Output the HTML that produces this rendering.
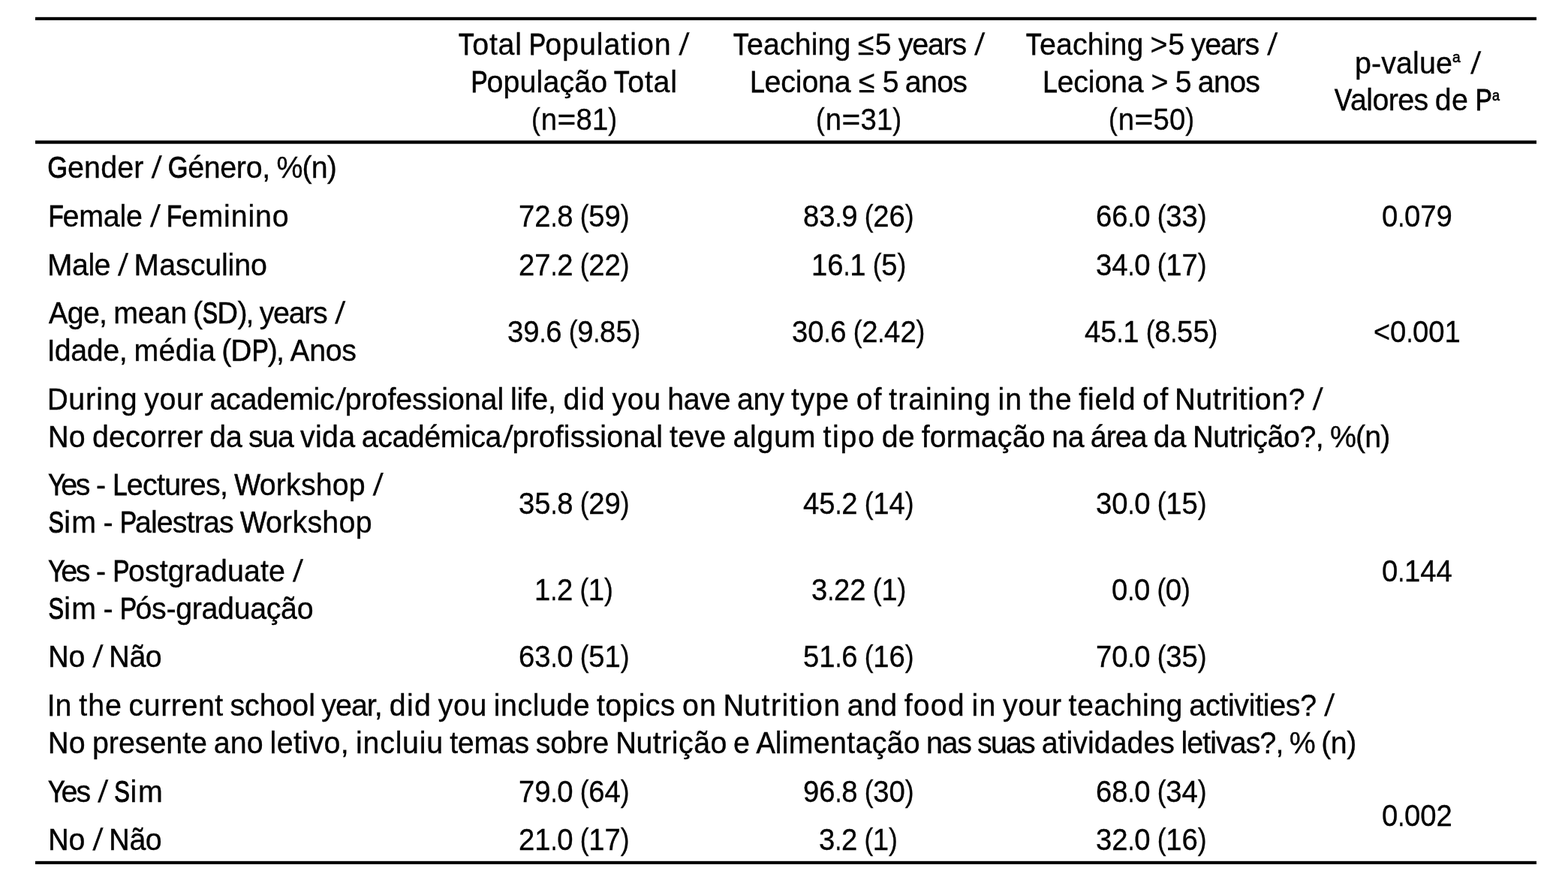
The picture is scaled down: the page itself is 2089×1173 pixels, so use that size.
<!DOCTYPE html>
<html lang="en"><head><meta charset="utf-8"><title>Table</title>
<style>
html,body{margin:0;padding:0;background:#fff;}
body{width:2089px;height:1173px;position:relative;overflow:hidden;font-family:"Liberation Sans", "DejaVu Sans", sans-serif;color:#000;}
.t{position:absolute;white-space:nowrap;font-size:41.2px;line-height:50px;transform-origin:0 0;display:block;}
.t{-webkit-text-stroke:0.35px #000;}
.c{display:inline-block;transform-origin:0 0;-webkit-text-stroke:0.75px #000;}
.p{display:inline-block;transform-origin:0 0;}
.sl{display:inline-block;text-align:center;transform:skewX(-6deg);transform-origin:50% 70%;}
.s{-webkit-text-stroke:0.7px #000;}
.r{position:absolute;left:47px;width:2000px;height:5px;}
</style></head><body>
<div class="r" style="top:22px;background:linear-gradient(to bottom,#cfcfcf 0,#cfcfcf 1px,#000 1px,#000 5px)"></div>
<div class="r" style="top:187px;background:linear-gradient(to bottom,#4d4d4d 0,#4d4d4d 1px,#000 1px,#000 4px,#4d4d4d 4px,#4d4d4d 5px)"></div>
<div class="r" style="top:1147px;background:linear-gradient(to bottom,#cfcfcf 0,#cfcfcf 1px,#000 1px,#000 5px)"></div>
<div class="t" aria-label="Total Population /" style="left:611.45px;top:33.80px;word-spacing:-2.221px;transform:scaleX(0.9550)"><span class="c" style="width:21.63px;transform:translateX(0.13px) scaleX(0.8594);-webkit-text-stroke-width:0.89px">T</span><span style="letter-spacing:0.78px;margin:0 -0.39px 0 -2.44px">otal</span> <span class="c" style="width:23.15px;transform:translateX(0.53px) scaleX(0.8425);-webkit-text-stroke-width:0.94px">P</span><span style="letter-spacing:1.03px;margin:0 -0.52px 0 -0.14px">opulation</span> <span class="sl" style="width:14.93px">/</span></div>
<div class="t" aria-label="População Total" style="left:626.93px;top:83.70px;word-spacing:-2.221px;transform:scaleX(0.9550)"><span class="c" style="width:23.15px;transform:translateX(0.53px) scaleX(0.8425);-webkit-text-stroke-width:0.94px">P</span><span style="letter-spacing:0.13px;margin:0 -0.06px 0 -0.59px">opulação</span> <span class="c" style="width:21.63px;transform:translateX(0.13px) scaleX(0.8594);-webkit-text-stroke-width:0.89px">T</span><span style="letter-spacing:0.78px;margin:0 -0.39px 0 -2.44px">otal</span></div>
<div class="t" aria-label="(n=81)" style="left:707.56px;top:133.90px;word-spacing:-1.973px;transform:scaleX(0.9300)"><span class="p" style="width:12.69px;transform:scaleX(0.9250)">(</span><span style="letter-spacing:1.89px;margin:0 -0.94px 0 0.94px">n</span><span class="p" style="width:26.63px;transform:scaleX(1.1070)">=</span><span style="letter-spacing:0.01px;margin:0 -0.01px 0 0.01px">81</span><span class="p" style="width:12.69px;transform:scaleX(0.9250)">)</span></div>
<div class="t" aria-label="Teaching ≤5 years /" style="left:976.92px;top:33.80px;word-spacing:-2.221px;transform:scaleX(0.9550)"><span class="c" style="width:21.63px;transform:translateX(0.13px) scaleX(0.8594);-webkit-text-stroke-width:0.89px">T</span><span style="letter-spacing:0.11px;margin:0 -0.05px 0 -2.77px">eaching</span> <span style="letter-spacing:1.37px;margin:0 -0.68px 0 0.68px">≤5</span> <span style="letter-spacing:-1.20px;margin:0 0.60px 0 -0.60px">years</span> <span class="sl" style="width:14.93px">/</span></div>
<div class="t" aria-label="Leciona ≤ 5 anos" style="left:999.00px;top:83.70px;word-spacing:-2.221px;transform:scaleX(0.9550)"><span class="c" style="width:20.54px;transform:translateX(0.35px) scaleX(0.8964);-webkit-text-stroke-width:0.78px">L</span><span style="letter-spacing:-0.15px;margin:0 0.08px 0 -0.08px">eciona</span> <span style="letter-spacing:3.33px;margin:0 -1.66px 0 1.66px">≤</span> <span style="letter-spacing:-0.59px;margin:0 0.29px 0 -0.29px">5</span> <span style="letter-spacing:-0.77px;margin:0 0.39px 0 -0.39px">anos</span></div>
<div class="t" aria-label="(n=31)" style="left:1086.76px;top:133.90px;word-spacing:-1.973px;transform:scaleX(0.9300)"><span class="p" style="width:12.69px;transform:scaleX(0.9250)">(</span><span style="letter-spacing:1.89px;margin:0 -0.94px 0 0.94px">n</span><span class="p" style="width:26.63px;transform:scaleX(1.1070)">=</span><span style="letter-spacing:0.01px;margin:0 -0.01px 0 0.01px">31</span><span class="p" style="width:12.69px;transform:scaleX(0.9250)">)</span></div>
<div class="t" aria-label="Teaching &gt;5 years /" style="left:1366.72px;top:33.80px;word-spacing:-2.221px;transform:scaleX(0.9550)"><span class="c" style="width:21.63px;transform:translateX(0.13px) scaleX(0.8594);-webkit-text-stroke-width:0.89px">T</span><span style="letter-spacing:0.11px;margin:0 -0.05px 0 -2.77px">eaching</span> <span style="letter-spacing:0.64px;margin:0 -0.32px 0 0.32px">&gt;5</span> <span style="letter-spacing:-1.20px;margin:0 0.60px 0 -0.60px">years</span> <span class="sl" style="width:14.93px">/</span></div>
<div class="t" aria-label="Leciona &gt; 5 anos" style="left:1388.80px;top:83.70px;word-spacing:-2.221px;transform:scaleX(0.9550)"><span class="c" style="width:20.54px;transform:translateX(0.35px) scaleX(0.8964);-webkit-text-stroke-width:0.78px">L</span><span style="letter-spacing:-0.15px;margin:0 0.08px 0 -0.08px">eciona</span> <span style="letter-spacing:1.88px;margin:0 -0.94px 0 0.94px">&gt;</span> <span style="letter-spacing:-0.59px;margin:0 0.29px 0 -0.29px">5</span> <span style="letter-spacing:-0.77px;margin:0 0.39px 0 -0.39px">anos</span></div>
<div class="t" aria-label="(n=50)" style="left:1476.56px;top:133.90px;word-spacing:-1.973px;transform:scaleX(0.9300)"><span class="p" style="width:12.69px;transform:scaleX(0.9250)">(</span><span style="letter-spacing:1.89px;margin:0 -0.94px 0 0.94px">n</span><span class="p" style="width:26.63px;transform:scaleX(1.1070)">=</span><span style="letter-spacing:0.01px;margin:0 -0.01px 0 0.01px">50</span><span class="p" style="width:12.69px;transform:scaleX(0.9250)">)</span></div>
<div class="t" aria-label="p-value" style="left:1805.30px;top:59.10px;word-spacing:-2.221px;transform:scaleX(0.9550)"><span style="letter-spacing:0.14px;margin:0 -0.07px 0 0.07px">p-value</span></div>
<span class="t s" style="font-size:20.5px;left:1935.19px;top:51.40px;transform:scaleX(0.9307)">a</span>
<div class="t" aria-label="/" style="left:1958.17px;top:59.10px;word-spacing:-2.221px;transform:scaleX(0.9550)"><span class="sl" style="width:14.93px">/</span></div>
<div class="t" aria-label="Valores de P" style="left:1777.85px;top:108.40px;word-spacing:-2.221px;transform:scaleX(0.9550)"><span class="c" style="width:24.28px;transform:scaleX(0.8837);-webkit-text-stroke-width:0.82px">V</span><span style="letter-spacing:-0.63px;margin:0 0.32px 0 -2.28px">alores</span> <span style="letter-spacing:0.26px;margin:0 -0.13px 0 0.13px">de</span> <span class="c" style="width:23.15px;transform:translateX(0.53px) scaleX(0.8425);-webkit-text-stroke-width:0.94px">P</span></div>
<span class="t s" style="font-size:20.5px;left:1987.54px;top:101.80px;transform:scaleX(0.8737)">a</span>
<div class="t" aria-label="Gender / Género, %(n)" style="left:62.96px;top:197.84px;word-spacing:-2.221px;transform:scaleX(0.9550)"><span class="c" style="width:28.11px;transform:translateX(0.25px) scaleX(0.8772);-webkit-text-stroke-width:0.84px">G</span><span style="letter-spacing:0.23px;margin:0 -0.12px 0 0.12px">ender</span> <span class="sl" style="width:14.93px">/</span> <span class="c" style="width:28.11px;transform:translateX(0.25px) scaleX(0.8772);-webkit-text-stroke-width:0.84px">G</span><span style="letter-spacing:-0.32px;margin:0 0.16px 0 -0.16px">énero,</span> <span style="letter-spacing:-0.91px;margin:0 0.46px 0 -0.46px">%(n)</span></div>
<div class="t" aria-label="Female / Feminino" style="left:63.78px;top:262.90px;word-spacing:-2.221px;transform:scaleX(0.9550)"><span class="c" style="width:21.19px;transform:translateX(0.53px) scaleX(0.8421);-webkit-text-stroke-width:0.94px">F</span><span style="letter-spacing:-0.21px;margin:0 0.11px 0 -0.76px">emale</span> <span class="sl" style="width:14.93px">/</span> <span class="c" style="width:21.19px;transform:translateX(0.53px) scaleX(0.8421);-webkit-text-stroke-width:0.94px">F</span><span style="letter-spacing:0.91px;margin:0 -0.46px 0 -0.20px">eminino</span></div>
<div class="t" aria-label="Male / Masculino" style="left:62.91px;top:327.90px;word-spacing:-2.221px;transform:scaleX(0.9550)"><span class="c" style="width:34.99px;transform:scaleX(1.0195);-webkit-text-stroke-width:0.43px">M</span><span style="letter-spacing:-0.64px;margin:0 0.32px 0 -0.32px">ale</span> <span class="sl" style="width:14.93px">/</span> <span class="c" style="width:34.99px;transform:scaleX(1.0195);-webkit-text-stroke-width:0.43px">M</span><span style="letter-spacing:-0.12px;margin:0 0.06px 0 -0.06px">asculino</span></div>
<div class="t" aria-label="Age, mean (SD), years /" style="left:64.93px;top:392.20px;word-spacing:-2.290px;transform:scaleX(0.9550)"><span class="c" style="width:26.43px;transform:scaleX(0.9619);-webkit-text-stroke-width:0.59px">A</span><span style="letter-spacing:-0.85px;margin:0 0.42px 0 -0.42px">ge,</span> <span style="letter-spacing:-0.15px;margin:0 0.08px 0 -0.08px">mean</span> <span style="letter-spacing:-1.45px;margin:0 0.73px 0 -0.73px">(</span><span class="c" style="width:21.29px;transform:translateX(0.42px) scaleX(0.7749);-webkit-text-stroke-width:1.10px">S</span><span class="c" style="width:28.77px;transform:translateX(0.11px) scaleX(0.9668);-webkit-text-stroke-width:0.58px">D</span><span style="letter-spacing:-1.98px;margin:0 0.99px 0 -0.99px">),</span> <span style="letter-spacing:-1.34px;margin:0 0.67px 0 -0.67px">years</span> <span class="sl" style="width:14.81px">/</span></div>
<div class="t" aria-label="Idade, média (DP), Anos" style="left:63.20px;top:441.90px;word-spacing:-2.207px;transform:scaleX(0.9550)"><span class="c" style="width:10.42px;transform:translateX(0.34px) scaleX(0.9100);-webkit-text-stroke-width:0.74px">I</span><span style="letter-spacing:-0.41px;margin:0 0.21px 0 -0.21px">dade,</span> <span style="letter-spacing:0.35px;margin:0 -0.18px 0 0.18px">média</span> <span style="letter-spacing:-1.34px;margin:0 0.67px 0 -0.67px">(</span><span class="c" style="width:29.03px;transform:translateX(0.08px) scaleX(0.9756);-webkit-text-stroke-width:0.55px">D</span><span class="c" style="width:23.19px;transform:translateX(0.53px) scaleX(0.8438);-webkit-text-stroke-width:0.93px">P</span><span style="letter-spacing:-1.88px;margin:0 0.94px 0 -0.94px">),</span> <span class="c" style="width:26.67px;transform:scaleX(0.9706);-webkit-text-stroke-width:0.57px">A</span><span style="letter-spacing:-0.35px;margin:0 0.18px 0 -0.18px">nos</span></div>
<div class="t" aria-label="During your academic/professional life, did you have any type of training in the field of Nutrition? /" style="left:63.36px;top:507.00px;word-spacing:-2.221px;transform:scaleX(0.9550)"><span class="c" style="width:28.98px;transform:translateX(0.09px) scaleX(0.9741);-webkit-text-stroke-width:0.56px">D</span><span style="letter-spacing:1.05px;margin:0 -0.53px 0 0.53px">uring</span> <span style="letter-spacing:0.61px;margin:0 -0.31px 0 0.31px">your</span> <span style="letter-spacing:-0.32px;margin:0 0.16px 0 -0.16px">academic</span><span class="sl" style="width:14.93px">/</span><span style="letter-spacing:-0.07px;margin:0 0.03px 0 -0.03px">professional</span> <span style="letter-spacing:-0.03px;margin:0 0.01px 0 -0.01px">life,</span> <span style="letter-spacing:1.43px;margin:0 -0.72px 0 0.72px">did</span> <span style="letter-spacing:0.65px;margin:0 -0.32px 0 0.32px">you</span> <span style="letter-spacing:-0.37px;margin:0 0.18px 0 -0.18px">have</span> <span style="letter-spacing:-0.27px;margin:0 0.13px 0 -0.13px">any</span> <span style="letter-spacing:0.90px;margin:0 -0.45px 0 0.45px">type</span> <span style="letter-spacing:1.12px;margin:0 -0.56px 0 0.56px">of</span> <span style="letter-spacing:0.94px;margin:0 -0.47px 0 0.47px">training</span> <span style="letter-spacing:1.13px;margin:0 -0.57px 0 0.57px">in</span> <span style="letter-spacing:1.03px;margin:0 -0.51px 0 0.51px">the</span> <span style="letter-spacing:0.80px;margin:0 -0.40px 0 0.40px">field</span> <span style="letter-spacing:1.12px;margin:0 -0.56px 0 0.56px">of</span> <span class="c" style="width:28.64px;transform:translateX(0.13px) scaleX(0.9624);-webkit-text-stroke-width:0.59px">N</span><span style="letter-spacing:0.72px;margin:0 -0.36px 0 0.36px">utrition?</span> <span class="sl" style="width:14.93px">/</span></div>
<div class="t" aria-label="No decorrer da sua vida académica/profissional teve algum tipo de formação na área da Nutrição?, %(n)" style="left:63.59px;top:556.80px;word-spacing:-2.209px;transform:scaleX(0.9550)"><span class="c" style="width:28.67px;transform:translateX(0.12px) scaleX(0.9637);-webkit-text-stroke-width:0.59px">N</span><span style="letter-spacing:1.01px;margin:0 -0.50px 0 0.50px">o</span> <span style="letter-spacing:0.13px;margin:0 -0.06px 0 0.06px">decorrer</span> <span style="letter-spacing:-0.12px;margin:0 0.06px 0 -0.06px">da</span> <span style="letter-spacing:-1.39px;margin:0 0.69px 0 -0.69px">sua</span> <span style="letter-spacing:0.29px;margin:0 -0.14px 0 0.14px">vida</span> <span style="letter-spacing:-0.47px;margin:0 0.24px 0 -0.24px">académica</span><span class="sl" style="width:14.95px">/</span><span style="letter-spacing:0.14px;margin:0 -0.07px 0 0.07px">profissional</span> <span style="letter-spacing:0.29px;margin:0 -0.15px 0 0.15px">teve</span> <span style="letter-spacing:0.76px;margin:0 -0.38px 0 0.38px">algum</span> <span style="letter-spacing:1.73px;margin:0 -0.86px 0 0.86px">tipo</span> <span style="letter-spacing:0.29px;margin:0 -0.15px 0 0.15px">de</span> <span style="letter-spacing:0.12px;margin:0 -0.06px 0 0.06px">formação</span> <span style="letter-spacing:-0.32px;margin:0 0.16px 0 -0.16px">na</span> <span style="letter-spacing:-1.09px;margin:0 0.55px 0 -0.55px">área</span> <span style="letter-spacing:-0.12px;margin:0 0.06px 0 -0.06px">da</span> <span class="c" style="width:28.67px;transform:translateX(0.12px) scaleX(0.9637);-webkit-text-stroke-width:0.59px">N</span><span style="letter-spacing:-0.44px;margin:0 0.22px 0 -0.22px">utrição?,</span> <span style="letter-spacing:-0.89px;margin:0 0.44px 0 -0.44px">%(n)</span></div>
<div class="t" aria-label="Yes - Lectures, Workshop /" style="left:64.26px;top:621.20px;word-spacing:-2.288px;transform:scaleX(0.9550)"><span class="c" style="width:23.37px;transform:translateX(0.14px) scaleX(0.8505);-webkit-text-stroke-width:0.91px">Y</span><span style="letter-spacing:-2.38px;margin:0 1.19px 0 -5.29px">es</span> <span style="letter-spacing:-0.46px;margin:0 0.23px 0 -0.23px">-</span> <span class="c" style="width:20.39px;transform:translateX(0.37px) scaleX(0.8899);-webkit-text-stroke-width:0.80px">L</span><span style="letter-spacing:-0.70px;margin:0 0.35px 0 -0.35px">ectures,</span> <span class="c" style="width:36.55px;transform:scaleX(0.9399);-webkit-text-stroke-width:0.66px">W</span><span style="letter-spacing:0.13px;margin:0 -0.07px 0 -1.45px">orkshop</span> <span class="sl" style="width:14.82px">/</span></div>
<div class="t" aria-label="Sim - Palestras Workshop" style="left:64.11px;top:671.00px;word-spacing:-2.221px;transform:scaleX(0.9550)"><span class="c" style="width:21.45px;transform:translateX(0.41px) scaleX(0.7807);-webkit-text-stroke-width:1.10px">S</span><span style="letter-spacing:1.50px;margin:0 -0.75px 0 0.75px">im</span> <span style="letter-spacing:-0.36px;margin:0 0.18px 0 -0.18px">-</span> <span class="c" style="width:23.15px;transform:translateX(0.53px) scaleX(0.8425);-webkit-text-stroke-width:0.94px">P</span><span style="letter-spacing:-0.89px;margin:0 0.45px 0 -1.53px">alestras</span> <span class="c" style="width:36.82px;transform:scaleX(0.9468);-webkit-text-stroke-width:0.64px">W</span><span style="letter-spacing:0.29px;margin:0 -0.14px 0 -1.38px">orkshop</span></div>
<div class="t" aria-label="Yes - Postgraduate /" style="left:64.26px;top:736.00px;word-spacing:-2.291px;transform:scaleX(0.9550)"><span class="c" style="width:23.36px;transform:translateX(0.14px) scaleX(0.8502);-webkit-text-stroke-width:0.91px">Y</span><span style="letter-spacing:-2.39px;margin:0 1.19px 0 -5.30px">es</span> <span style="letter-spacing:-0.46px;margin:0 0.23px 0 -0.23px">-</span> <span class="c" style="width:22.98px;transform:translateX(0.55px) scaleX(0.8361);-webkit-text-stroke-width:0.95px">P</span><span style="letter-spacing:0.13px;margin:0 -0.07px 0 -0.58px">ostgraduate</span> <span class="sl" style="width:14.81px">/</span></div>
<div class="t" aria-label="Sim - Pós-graduação" style="left:64.11px;top:786.00px;word-spacing:-2.221px;transform:scaleX(0.9550)"><span class="c" style="width:21.45px;transform:translateX(0.41px) scaleX(0.7807);-webkit-text-stroke-width:1.10px">S</span><span style="letter-spacing:1.50px;margin:0 -0.75px 0 0.75px">im</span> <span style="letter-spacing:-0.36px;margin:0 0.18px 0 -0.18px">-</span> <span class="c" style="width:23.15px;transform:translateX(0.53px) scaleX(0.8425);-webkit-text-stroke-width:0.94px">P</span><span style="letter-spacing:-0.34px;margin:0 0.17px 0 -0.82px">ós-graduação</span></div>
<div class="t" aria-label="No / Não" style="left:63.61px;top:850.06px;word-spacing:-2.267px;transform:scaleX(0.9550)"><span class="c" style="width:28.49px;transform:translateX(0.14px) scaleX(0.9576);-webkit-text-stroke-width:0.61px">N</span><span style="letter-spacing:0.86px;margin:0 -0.43px 0 0.43px">o</span> <span class="sl" style="width:14.85px">/</span> <span class="c" style="width:28.49px;transform:translateX(0.14px) scaleX(0.9576);-webkit-text-stroke-width:0.61px">N</span><span style="letter-spacing:-0.59px;margin:0 0.30px 0 -0.30px">ão</span></div>
<div class="t" aria-label="In the current school year, did you include topics on Nutrition and food in your teaching activities? /" style="left:63.40px;top:914.90px;word-spacing:-2.221px;transform:scaleX(0.9550)"><span class="c" style="width:10.40px;transform:translateX(0.35px) scaleX(0.9086);-webkit-text-stroke-width:0.75px">I</span><span style="letter-spacing:1.24px;margin:0 -0.62px 0 0.62px">n</span> <span style="letter-spacing:1.03px;margin:0 -0.51px 0 0.51px">the</span> <span style="letter-spacing:0.58px;margin:0 -0.29px 0 0.29px">current</span> <span style="letter-spacing:-0.03px;margin:0 0.01px 0 -0.01px">school</span> <span style="letter-spacing:-1.00px;margin:0 0.50px 0 -0.50px">year,</span> <span style="letter-spacing:1.43px;margin:0 -0.72px 0 0.72px">did</span> <span style="letter-spacing:0.65px;margin:0 -0.32px 0 0.32px">you</span> <span style="letter-spacing:0.55px;margin:0 -0.28px 0 0.28px">include</span> <span style="letter-spacing:0.39px;margin:0 -0.20px 0 0.20px">topics</span> <span style="letter-spacing:1.11px;margin:0 -0.55px 0 0.55px">on</span> <span class="c" style="width:28.64px;transform:translateX(0.13px) scaleX(0.9624);-webkit-text-stroke-width:0.59px">N</span><span style="letter-spacing:1.47px;margin:0 -0.74px 0 0.74px">utrition</span> <span style="letter-spacing:0.31px;margin:0 -0.16px 0 0.16px">and</span> <span style="letter-spacing:1.21px;margin:0 -0.61px 0 0.61px">food</span> <span style="letter-spacing:1.13px;margin:0 -0.57px 0 0.57px">in</span> <span style="letter-spacing:0.61px;margin:0 -0.31px 0 0.31px">your</span> <span style="letter-spacing:0.47px;margin:0 -0.23px 0 0.23px">teaching</span> <span style="letter-spacing:-0.31px;margin:0 0.16px 0 -0.16px">activities?</span> <span class="sl" style="width:14.93px">/</span></div>
<div class="t" aria-label="No presente ano letivo, incluiu temas sobre Nutrição e Alimentação nas suas atividades letivas?, % (n)" style="left:63.59px;top:964.60px;word-spacing:-2.221px;transform:scaleX(0.9550)"><span class="c" style="width:28.64px;transform:translateX(0.13px) scaleX(0.9624);-webkit-text-stroke-width:0.59px">N</span><span style="letter-spacing:0.98px;margin:0 -0.49px 0 0.49px">o</span> <span style="letter-spacing:-0.02px;margin:0 0.01px 0 -0.01px">presente</span> <span style="letter-spacing:0.09px;margin:0 -0.05px 0 0.05px">ano</span> <span style="letter-spacing:0.41px;margin:0 -0.20px 0 0.20px">letivo,</span> <span style="letter-spacing:0.78px;margin:0 -0.39px 0 0.39px">incluiu</span> <span style="letter-spacing:-0.30px;margin:0 0.15px 0 -0.15px">temas</span> <span style="letter-spacing:-0.23px;margin:0 0.11px 0 -0.11px">sobre</span> <span class="c" style="width:28.64px;transform:translateX(0.13px) scaleX(0.9624);-webkit-text-stroke-width:0.59px">N</span><span style="letter-spacing:0.50px;margin:0 -0.25px 0 0.25px">utrição</span> <span style="letter-spacing:-1.11px;margin:0 0.56px 0 -0.56px">e</span> <span class="c" style="width:26.63px;transform:scaleX(0.9692);-webkit-text-stroke-width:0.57px">A</span><span style="letter-spacing:0.32px;margin:0 -0.16px 0 0.16px">limentação</span> <span style="letter-spacing:-1.36px;margin:0 0.68px 0 -0.68px">nas</span> <span style="letter-spacing:-1.90px;margin:0 0.95px 0 -0.95px">suas</span> <span style="letter-spacing:0.03px;margin:0 -0.01px 0 0.01px">atividades</span> <span style="letter-spacing:-0.96px;margin:0 0.48px 0 -0.48px">letivas?,</span> <span style="letter-spacing:-2.17px;margin:0 1.08px 0 -1.08px">%</span> <span style="letter-spacing:-0.49px;margin:0 0.25px 0 -0.25px">(n)</span></div>
<div class="t" aria-label="Yes / Sim" style="left:64.25px;top:1029.80px;word-spacing:-2.165px;transform:scaleX(0.9550)"><span class="c" style="width:23.68px;transform:translateX(0.13px) scaleX(0.8619);-webkit-text-stroke-width:0.88px">Y</span><span style="letter-spacing:-2.12px;margin:0 1.06px 0 -5.22px">es</span> <span class="sl" style="width:15.02px">/</span> <span class="c" style="width:21.58px;transform:translateX(0.40px) scaleX(0.7854);-webkit-text-stroke-width:1.10px">S</span><span style="letter-spacing:1.64px;margin:0 -0.82px 0 0.82px">im</span></div>
<div class="t" aria-label="No / Não" style="left:63.61px;top:1094.10px;word-spacing:-2.267px;transform:scaleX(0.9550)"><span class="c" style="width:28.49px;transform:translateX(0.14px) scaleX(0.9576);-webkit-text-stroke-width:0.61px">N</span><span style="letter-spacing:0.86px;margin:0 -0.43px 0 0.43px">o</span> <span class="sl" style="width:14.85px">/</span> <span class="c" style="width:28.49px;transform:translateX(0.14px) scaleX(0.9576);-webkit-text-stroke-width:0.61px">N</span><span style="letter-spacing:-0.59px;margin:0 0.30px 0 -0.30px">ão</span></div>
<div class="t" aria-label="72.8 (59)" style="left:690.79px;top:262.90px;word-spacing:-1.973px;transform:scaleX(0.9300)"><span style="letter-spacing:0.01px;margin:0 -0.01px 0 0.01px">72</span><span class="p" style="width:9.25px;transform:scaleX(0.8081)">.</span><span style="letter-spacing:0.01px;margin:0 -0.01px 0 0.01px">8</span> <span class="p" style="width:12.69px;transform:scaleX(0.9250)">(</span><span style="letter-spacing:0.01px;margin:0 -0.01px 0 0.01px">59</span><span class="p" style="width:12.69px;transform:scaleX(0.9250)">)</span></div>
<div class="t" aria-label="83.9 (26)" style="left:1069.99px;top:262.90px;word-spacing:-1.973px;transform:scaleX(0.9300)"><span style="letter-spacing:0.01px;margin:0 -0.01px 0 0.01px">83</span><span class="p" style="width:9.25px;transform:scaleX(0.8081)">.</span><span style="letter-spacing:0.01px;margin:0 -0.01px 0 0.01px">9</span> <span class="p" style="width:12.69px;transform:scaleX(0.9250)">(</span><span style="letter-spacing:0.01px;margin:0 -0.01px 0 0.01px">26</span><span class="p" style="width:12.69px;transform:scaleX(0.9250)">)</span></div>
<div class="t" aria-label="66.0 (33)" style="left:1459.79px;top:262.90px;word-spacing:-1.973px;transform:scaleX(0.9300)"><span style="letter-spacing:0.01px;margin:0 -0.01px 0 0.01px">66</span><span class="p" style="width:9.25px;transform:scaleX(0.8081)">.</span><span style="letter-spacing:0.01px;margin:0 -0.01px 0 0.01px">0</span> <span class="p" style="width:12.69px;transform:scaleX(0.9250)">(</span><span style="letter-spacing:0.01px;margin:0 -0.01px 0 0.01px">33</span><span class="p" style="width:12.69px;transform:scaleX(0.9250)">)</span></div>
<div class="t" aria-label="0.079" style="left:1841.26px;top:262.90px;word-spacing:-1.973px;transform:scaleX(0.9300)"><span style="letter-spacing:0.01px;margin:0 -0.01px 0 0.01px">0</span><span class="p" style="width:9.25px;transform:scaleX(0.8081)">.</span><span style="letter-spacing:0.01px;margin:0 -0.01px 0 0.01px">079</span></div>
<div class="t" aria-label="27.2 (22)" style="left:690.79px;top:327.90px;word-spacing:-1.973px;transform:scaleX(0.9300)"><span style="letter-spacing:0.01px;margin:0 -0.01px 0 0.01px">27</span><span class="p" style="width:9.25px;transform:scaleX(0.8081)">.</span><span style="letter-spacing:0.01px;margin:0 -0.01px 0 0.01px">2</span> <span class="p" style="width:12.69px;transform:scaleX(0.9250)">(</span><span style="letter-spacing:0.01px;margin:0 -0.01px 0 0.01px">22</span><span class="p" style="width:12.69px;transform:scaleX(0.9250)">)</span></div>
<div class="t" aria-label="16.1 (5)" style="left:1080.65px;top:327.90px;word-spacing:-1.973px;transform:scaleX(0.9300)"><span style="letter-spacing:0.01px;margin:0 -0.01px 0 0.01px">16</span><span class="p" style="width:9.25px;transform:scaleX(0.8081)">.</span><span style="letter-spacing:0.01px;margin:0 -0.01px 0 0.01px">1</span> <span class="p" style="width:12.69px;transform:scaleX(0.9250)">(</span><span style="letter-spacing:0.01px;margin:0 -0.01px 0 0.01px">5</span><span class="p" style="width:12.69px;transform:scaleX(0.9250)">)</span></div>
<div class="t" aria-label="34.0 (17)" style="left:1459.79px;top:327.90px;word-spacing:-1.973px;transform:scaleX(0.9300)"><span style="letter-spacing:0.01px;margin:0 -0.01px 0 0.01px">34</span><span class="p" style="width:9.25px;transform:scaleX(0.8081)">.</span><span style="letter-spacing:0.01px;margin:0 -0.01px 0 0.01px">0</span> <span class="p" style="width:12.69px;transform:scaleX(0.9250)">(</span><span style="letter-spacing:0.01px;margin:0 -0.01px 0 0.01px">17</span><span class="p" style="width:12.69px;transform:scaleX(0.9250)">)</span></div>
<div class="t" aria-label="39.6 (9.85)" style="left:675.83px;top:417.05px;word-spacing:-1.973px;transform:scaleX(0.9300)"><span style="letter-spacing:0.01px;margin:0 -0.01px 0 0.01px">39</span><span class="p" style="width:9.25px;transform:scaleX(0.8081)">.</span><span style="letter-spacing:0.01px;margin:0 -0.01px 0 0.01px">6</span> <span class="p" style="width:12.69px;transform:scaleX(0.9250)">(</span><span style="letter-spacing:0.01px;margin:0 -0.01px 0 0.01px">9</span><span class="p" style="width:9.25px;transform:scaleX(0.8081)">.</span><span style="letter-spacing:0.01px;margin:0 -0.01px 0 0.01px">85</span><span class="p" style="width:12.69px;transform:scaleX(0.9250)">)</span></div>
<div class="t" aria-label="30.6 (2.42)" style="left:1055.03px;top:417.05px;word-spacing:-1.973px;transform:scaleX(0.9300)"><span style="letter-spacing:0.01px;margin:0 -0.01px 0 0.01px">30</span><span class="p" style="width:9.25px;transform:scaleX(0.8081)">.</span><span style="letter-spacing:0.01px;margin:0 -0.01px 0 0.01px">6</span> <span class="p" style="width:12.69px;transform:scaleX(0.9250)">(</span><span style="letter-spacing:0.01px;margin:0 -0.01px 0 0.01px">2</span><span class="p" style="width:9.25px;transform:scaleX(0.8081)">.</span><span style="letter-spacing:0.01px;margin:0 -0.01px 0 0.01px">42</span><span class="p" style="width:12.69px;transform:scaleX(0.9250)">)</span></div>
<div class="t" aria-label="45.1 (8.55)" style="left:1444.83px;top:417.05px;word-spacing:-1.973px;transform:scaleX(0.9300)"><span style="letter-spacing:0.01px;margin:0 -0.01px 0 0.01px">45</span><span class="p" style="width:9.25px;transform:scaleX(0.8081)">.</span><span style="letter-spacing:0.01px;margin:0 -0.01px 0 0.01px">1</span> <span class="p" style="width:12.69px;transform:scaleX(0.9250)">(</span><span style="letter-spacing:0.01px;margin:0 -0.01px 0 0.01px">8</span><span class="p" style="width:9.25px;transform:scaleX(0.8081)">.</span><span style="letter-spacing:0.01px;margin:0 -0.01px 0 0.01px">55</span><span class="p" style="width:12.69px;transform:scaleX(0.9250)">)</span></div>
<div class="t" aria-label="&lt;0.001" style="left:1830.24px;top:417.05px;word-spacing:-1.973px;transform:scaleX(0.9300)"><span class="p" style="width:23.68px;transform:scaleX(0.9844)">&lt;</span><span style="letter-spacing:0.01px;margin:0 -0.01px 0 0.01px">0</span><span class="p" style="width:9.25px;transform:scaleX(0.8081)">.</span><span style="letter-spacing:0.01px;margin:0 -0.01px 0 0.01px">001</span></div>
<div class="t" aria-label="35.8 (29)" style="left:690.79px;top:646.10px;word-spacing:-1.973px;transform:scaleX(0.9300)"><span style="letter-spacing:0.01px;margin:0 -0.01px 0 0.01px">35</span><span class="p" style="width:9.25px;transform:scaleX(0.8081)">.</span><span style="letter-spacing:0.01px;margin:0 -0.01px 0 0.01px">8</span> <span class="p" style="width:12.69px;transform:scaleX(0.9250)">(</span><span style="letter-spacing:0.01px;margin:0 -0.01px 0 0.01px">29</span><span class="p" style="width:12.69px;transform:scaleX(0.9250)">)</span></div>
<div class="t" aria-label="45.2 (14)" style="left:1069.99px;top:646.10px;word-spacing:-1.973px;transform:scaleX(0.9300)"><span style="letter-spacing:0.01px;margin:0 -0.01px 0 0.01px">45</span><span class="p" style="width:9.25px;transform:scaleX(0.8081)">.</span><span style="letter-spacing:0.01px;margin:0 -0.01px 0 0.01px">2</span> <span class="p" style="width:12.69px;transform:scaleX(0.9250)">(</span><span style="letter-spacing:0.01px;margin:0 -0.01px 0 0.01px">14</span><span class="p" style="width:12.69px;transform:scaleX(0.9250)">)</span></div>
<div class="t" aria-label="30.0 (15)" style="left:1459.79px;top:646.10px;word-spacing:-1.973px;transform:scaleX(0.9300)"><span style="letter-spacing:0.01px;margin:0 -0.01px 0 0.01px">30</span><span class="p" style="width:9.25px;transform:scaleX(0.8081)">.</span><span style="letter-spacing:0.01px;margin:0 -0.01px 0 0.01px">0</span> <span class="p" style="width:12.69px;transform:scaleX(0.9250)">(</span><span style="letter-spacing:0.01px;margin:0 -0.01px 0 0.01px">15</span><span class="p" style="width:12.69px;transform:scaleX(0.9250)">)</span></div>
<div class="t" aria-label="1.2 (1)" style="left:712.11px;top:761.00px;word-spacing:-1.973px;transform:scaleX(0.9300)"><span style="letter-spacing:0.01px;margin:0 -0.01px 0 0.01px">1</span><span class="p" style="width:9.25px;transform:scaleX(0.8081)">.</span><span style="letter-spacing:0.01px;margin:0 -0.01px 0 0.01px">2</span> <span class="p" style="width:12.69px;transform:scaleX(0.9250)">(</span><span style="letter-spacing:0.01px;margin:0 -0.01px 0 0.01px">1</span><span class="p" style="width:12.69px;transform:scaleX(0.9250)">)</span></div>
<div class="t" aria-label="3.22 (1)" style="left:1080.65px;top:761.00px;word-spacing:-1.973px;transform:scaleX(0.9300)"><span style="letter-spacing:0.01px;margin:0 -0.01px 0 0.01px">3</span><span class="p" style="width:9.25px;transform:scaleX(0.8081)">.</span><span style="letter-spacing:0.01px;margin:0 -0.01px 0 0.01px">22</span> <span class="p" style="width:12.69px;transform:scaleX(0.9250)">(</span><span style="letter-spacing:0.01px;margin:0 -0.01px 0 0.01px">1</span><span class="p" style="width:12.69px;transform:scaleX(0.9250)">)</span></div>
<div class="t" aria-label="0.0 (0)" style="left:1481.11px;top:761.00px;word-spacing:-1.973px;transform:scaleX(0.9300)"><span style="letter-spacing:0.01px;margin:0 -0.01px 0 0.01px">0</span><span class="p" style="width:9.25px;transform:scaleX(0.8081)">.</span><span style="letter-spacing:0.01px;margin:0 -0.01px 0 0.01px">0</span> <span class="p" style="width:12.69px;transform:scaleX(0.9250)">(</span><span style="letter-spacing:0.01px;margin:0 -0.01px 0 0.01px">0</span><span class="p" style="width:12.69px;transform:scaleX(0.9250)">)</span></div>
<div class="t" aria-label="63.0 (51)" style="left:690.79px;top:850.06px;word-spacing:-1.973px;transform:scaleX(0.9300)"><span style="letter-spacing:0.01px;margin:0 -0.01px 0 0.01px">63</span><span class="p" style="width:9.25px;transform:scaleX(0.8081)">.</span><span style="letter-spacing:0.01px;margin:0 -0.01px 0 0.01px">0</span> <span class="p" style="width:12.69px;transform:scaleX(0.9250)">(</span><span style="letter-spacing:0.01px;margin:0 -0.01px 0 0.01px">51</span><span class="p" style="width:12.69px;transform:scaleX(0.9250)">)</span></div>
<div class="t" aria-label="51.6 (16)" style="left:1069.99px;top:850.06px;word-spacing:-1.973px;transform:scaleX(0.9300)"><span style="letter-spacing:0.01px;margin:0 -0.01px 0 0.01px">51</span><span class="p" style="width:9.25px;transform:scaleX(0.8081)">.</span><span style="letter-spacing:0.01px;margin:0 -0.01px 0 0.01px">6</span> <span class="p" style="width:12.69px;transform:scaleX(0.9250)">(</span><span style="letter-spacing:0.01px;margin:0 -0.01px 0 0.01px">16</span><span class="p" style="width:12.69px;transform:scaleX(0.9250)">)</span></div>
<div class="t" aria-label="70.0 (35)" style="left:1459.79px;top:850.06px;word-spacing:-1.973px;transform:scaleX(0.9300)"><span style="letter-spacing:0.01px;margin:0 -0.01px 0 0.01px">70</span><span class="p" style="width:9.25px;transform:scaleX(0.8081)">.</span><span style="letter-spacing:0.01px;margin:0 -0.01px 0 0.01px">0</span> <span class="p" style="width:12.69px;transform:scaleX(0.9250)">(</span><span style="letter-spacing:0.01px;margin:0 -0.01px 0 0.01px">35</span><span class="p" style="width:12.69px;transform:scaleX(0.9250)">)</span></div>
<div class="t" aria-label="79.0 (64)" style="left:690.79px;top:1029.80px;word-spacing:-1.973px;transform:scaleX(0.9300)"><span style="letter-spacing:0.01px;margin:0 -0.01px 0 0.01px">79</span><span class="p" style="width:9.25px;transform:scaleX(0.8081)">.</span><span style="letter-spacing:0.01px;margin:0 -0.01px 0 0.01px">0</span> <span class="p" style="width:12.69px;transform:scaleX(0.9250)">(</span><span style="letter-spacing:0.01px;margin:0 -0.01px 0 0.01px">64</span><span class="p" style="width:12.69px;transform:scaleX(0.9250)">)</span></div>
<div class="t" aria-label="96.8 (30)" style="left:1069.99px;top:1029.80px;word-spacing:-1.973px;transform:scaleX(0.9300)"><span style="letter-spacing:0.01px;margin:0 -0.01px 0 0.01px">96</span><span class="p" style="width:9.25px;transform:scaleX(0.8081)">.</span><span style="letter-spacing:0.01px;margin:0 -0.01px 0 0.01px">8</span> <span class="p" style="width:12.69px;transform:scaleX(0.9250)">(</span><span style="letter-spacing:0.01px;margin:0 -0.01px 0 0.01px">30</span><span class="p" style="width:12.69px;transform:scaleX(0.9250)">)</span></div>
<div class="t" aria-label="68.0 (34)" style="left:1459.79px;top:1029.80px;word-spacing:-1.973px;transform:scaleX(0.9300)"><span style="letter-spacing:0.01px;margin:0 -0.01px 0 0.01px">68</span><span class="p" style="width:9.25px;transform:scaleX(0.8081)">.</span><span style="letter-spacing:0.01px;margin:0 -0.01px 0 0.01px">0</span> <span class="p" style="width:12.69px;transform:scaleX(0.9250)">(</span><span style="letter-spacing:0.01px;margin:0 -0.01px 0 0.01px">34</span><span class="p" style="width:12.69px;transform:scaleX(0.9250)">)</span></div>
<div class="t" aria-label="21.0 (17)" style="left:690.79px;top:1094.10px;word-spacing:-1.973px;transform:scaleX(0.9300)"><span style="letter-spacing:0.01px;margin:0 -0.01px 0 0.01px">21</span><span class="p" style="width:9.25px;transform:scaleX(0.8081)">.</span><span style="letter-spacing:0.01px;margin:0 -0.01px 0 0.01px">0</span> <span class="p" style="width:12.69px;transform:scaleX(0.9250)">(</span><span style="letter-spacing:0.01px;margin:0 -0.01px 0 0.01px">17</span><span class="p" style="width:12.69px;transform:scaleX(0.9250)">)</span></div>
<div class="t" aria-label="3.2 (1)" style="left:1091.31px;top:1094.10px;word-spacing:-1.973px;transform:scaleX(0.9300)"><span style="letter-spacing:0.01px;margin:0 -0.01px 0 0.01px">3</span><span class="p" style="width:9.25px;transform:scaleX(0.8081)">.</span><span style="letter-spacing:0.01px;margin:0 -0.01px 0 0.01px">2</span> <span class="p" style="width:12.69px;transform:scaleX(0.9250)">(</span><span style="letter-spacing:0.01px;margin:0 -0.01px 0 0.01px">1</span><span class="p" style="width:12.69px;transform:scaleX(0.9250)">)</span></div>
<div class="t" aria-label="32.0 (16)" style="left:1459.79px;top:1094.10px;word-spacing:-1.973px;transform:scaleX(0.9300)"><span style="letter-spacing:0.01px;margin:0 -0.01px 0 0.01px">32</span><span class="p" style="width:9.25px;transform:scaleX(0.8081)">.</span><span style="letter-spacing:0.01px;margin:0 -0.01px 0 0.01px">0</span> <span class="p" style="width:12.69px;transform:scaleX(0.9250)">(</span><span style="letter-spacing:0.01px;margin:0 -0.01px 0 0.01px">16</span><span class="p" style="width:12.69px;transform:scaleX(0.9250)">)</span></div>
<div class="t" aria-label="0.144" style="left:1841.26px;top:736.00px;word-spacing:-1.973px;transform:scaleX(0.9300)"><span style="letter-spacing:0.01px;margin:0 -0.01px 0 0.01px">0</span><span class="p" style="width:9.25px;transform:scaleX(0.8081)">.</span><span style="letter-spacing:0.01px;margin:0 -0.01px 0 0.01px">144</span></div>
<div class="t" aria-label="0.002" style="left:1841.26px;top:1061.95px;word-spacing:-1.973px;transform:scaleX(0.9300)"><span style="letter-spacing:0.01px;margin:0 -0.01px 0 0.01px">0</span><span class="p" style="width:9.25px;transform:scaleX(0.8081)">.</span><span style="letter-spacing:0.01px;margin:0 -0.01px 0 0.01px">002</span></div>
</body></html>
